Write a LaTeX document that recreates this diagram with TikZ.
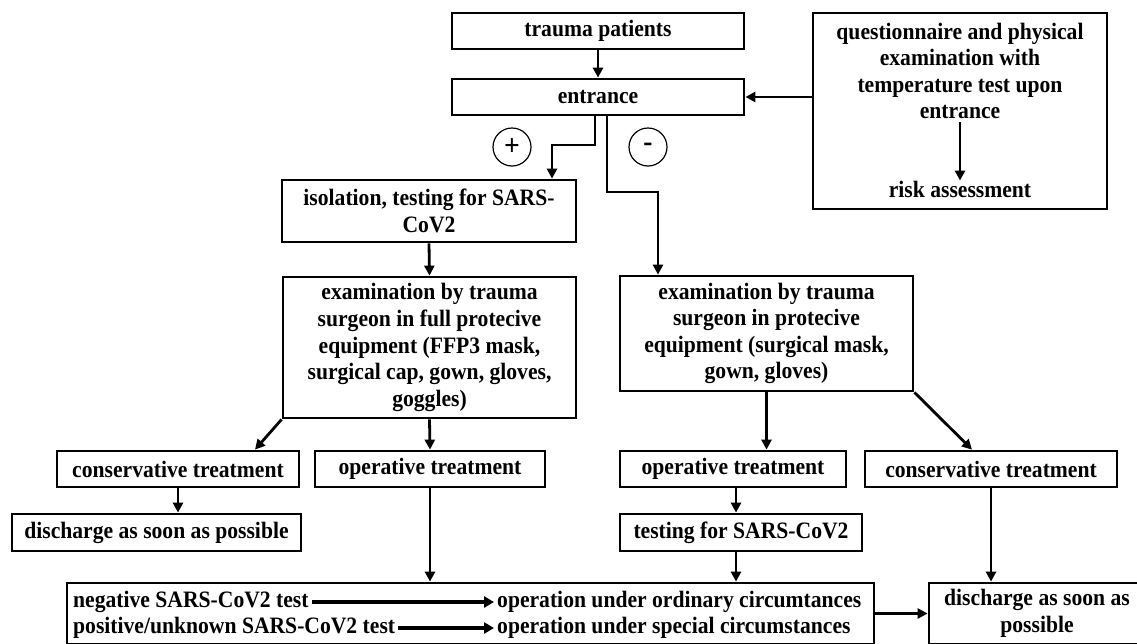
\documentclass[tikz,border=0pt]{standalone}
\usepackage{fontspec}
\setmainfont{Liberation Serif}[FakeStretch=0.92]
\usetikzlibrary{arrows.meta}
\begin{document}
\begin{tikzpicture}[x=1pt,y=-1pt,
  every node/.style={font=\fontsize{23.5}{26.6}\selectfont\bfseries},
  box/.style={draw, line width=2.8pt, inner sep=0pt, align=center},
  txt/.style={inner sep=0pt, align=center},
  arr/.style={line width=2.8pt, -{Triangle[length=10pt,width=10pt]}},
  barr/.style={line width=4pt, -{Triangle[length=10pt,width=11pt]}},
  sign/.style={draw, circle, line width=1.2pt, minimum size=38pt, inner sep=0pt, font=\fontsize{30}{30}\selectfont\bfseries}]
\useasboundingbox (0,0) rectangle (1137,643);
\clip (0,0) rectangle (1137,643);
% boxes
\node[box, minimum width=292, minimum height=36] (tp) at (598,31) {trauma patients};
\node[box, minimum width=292, minimum height=36] (ent) at (598,97) {entrance};
\node[box, minimum width=294, minimum height=196] (q) at (960,111) {};
\node[txt] (qt) at (960,71) {questionnaire and physical\\examination with\\temperature test upon\\entrance};
\node[txt] (risk) at (960,189) {risk assessment};
\node[sign] (plus) at (512,147) {+};
\node[sign] (minus) at (648,147) {-};
\node[box, minimum width=294, minimum height=62] (iso) at (429,211) {isolation, testing for SARS-\\CoV2};
\node[box, minimum width=293, minimum height=141] (exL) at (429.5,347.5) {examination by trauma\\surgeon in full protecive\\equipment (FFP3 mask,\\surgical cap, gown, gloves,\\goggles)};
\node[box, minimum width=293, minimum height=115] (exR) at (766.5,333.5) {examination by trauma\\surgeon in protecive\\equipment (surgical mask,\\gown, gloves)};
\node[box, minimum width=242, minimum height=36] (consL) at (178,469) {conservative treatment};
\node[box, minimum width=230, minimum height=36] (opL) at (430,469) {operative treatment};
\node[box, minimum width=289, minimum height=37] (disL) at (156.5,532.5) {discharge as soon as possible};
\node[box, minimum width=226, minimum height=36] (opR) at (733,469) {operative treatment};
\node[box, minimum width=242, minimum height=37] (test) at (741,532.5) {testing for SARS-CoV2};
\node[box, minimum width=252, minimum height=36] (consR) at (991,469) {conservative treatment};
\node[box, minimum width=807, minimum height=61] (bot) at (470.5,613.5) {};
\node[box, minimum width=216, minimum height=61] (disR) at (1037,613.5) {discharge as soon as\\possible};
% bottom box contents
\node[txt, anchor=west] (n1) at (73,602) {negative SARS-CoV2 test};
\node[txt, anchor=west] (n2) at (73,628) {positive/unknown SARS-CoV2 test};
\node[txt, anchor=west] (o1) at (497,602) {operation under ordinary circumtances};
\node[txt, anchor=west] (o2) at (497,628) {operation under special circumstances};
\draw[barr] ([xshift=3pt]n1.east) -- ([xshift=-3pt]o1.west);
\draw[barr] ([xshift=3pt]n2.east) -- ([xshift=-3pt]o2.west);
% connectors
\draw[arr] (tp.south) -- (ent.north);
\draw[arr] (q.west |- ent.east) -- (ent.east);
\draw[arr] ([yshift=-3pt]qt.south) -- (risk.north);
\coordinate (p1) at (552,145);
\draw[arr] ([xshift=-3pt]ent.south) |- (p1) -- (p1 |- iso.north);
\coordinate (m1) at (658,192);
\draw[arr] ([xshift=9pt]ent.south) |- (m1) -- (m1 |- exR.north);
\draw[arr] (iso.south) -- (exL.north);
\draw[arr] (exL.south west) -- ([xshift=77pt]consL.north);
\draw[arr] (exL.south) -- (opL.north);
\draw[arr] (consL.south) -- (consL.south |- disL.north);
\draw[arr] (opL.south) -- (opL.south |- bot.north);
\draw[arr] (exR.south) -- (exR.south |- opR.north);
\draw[arr] (exR.south east) -- ([xshift=-19pt]consR.north);
\coordinate (r1) at ([xshift=3pt]opR.south);
\draw[arr] (r1) -- (r1 |- test.north);
\coordinate (r2) at ([xshift=-5pt]test.south);
\draw[arr] (r2) -- (r2 |- bot.north);
\draw[arr] (consR.south) -- (consR.south |- disR.north);
\draw[arr] (bot.east) -- (disR.west);
\end{tikzpicture}
\end{document}
